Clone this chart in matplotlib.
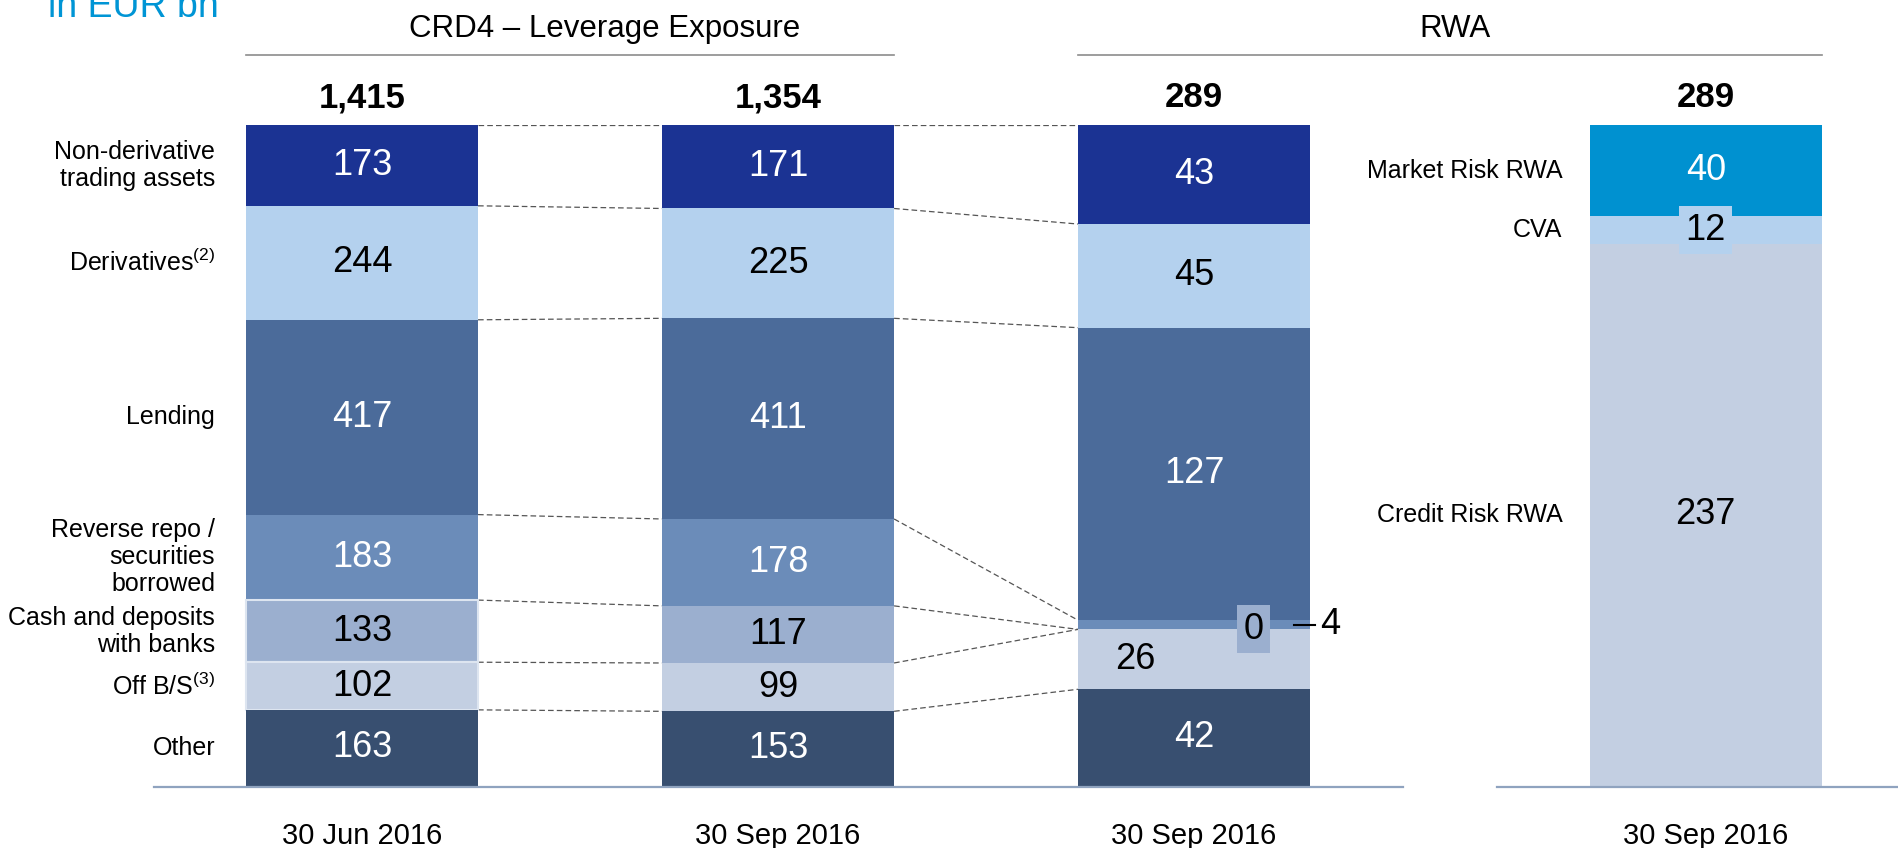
import matplotlib.pyplot as plt
import numpy as np

plt.rcParams['font.family'] = ['Liberation Sans', 'DejaVu Sans']
plt.rcParams['mathtext.fontset'] = 'custom'
plt.rcParams['mathtext.rm'] = 'Liberation Sans'

# data (EUR bn)
categories = ['Non-derivative\ntrading assets', 'Derivatives$^{(2)}$', 'Lending',
              'Reverse repo /\nsecurities\nborrowed', 'Cash and deposits\nwith banks',
              'Off B/S$^{(3)}$', 'Other']
jun16 = [173, 244, 417, 183, 133, 102, 163]
sep16 = [171, 225, 411, 178, 117, 99, 153]
rwa_split = [43, 45, 127, 4, 0, 26, 42]
rwa_cats = ['Market Risk RWA', 'CVA', 'Credit Risk RWA']
rwa_type = [40, 12, 237]
totals = ['1,415', '1,354', '289', '289']
dates = ['30 Jun 2016', '30 Sep 2016', '30 Sep 2016', '30 Sep 2016']

colors = ['#1b3393', '#b4d1ee', '#4b6b9a', '#6b8cb9', '#9bafcf', '#c3cfe2', '#384f70']
txt_col = ['white', 'black', 'white', 'white', 'black', 'black', 'white']
rwa_colors = ['#0091d0', '#b4d1ee', '#c3cfe2']
rwa_txt = ['white', 'black', 'black']

xpos = [0, 1, 2, 3.23]
w = 0.558

fig = plt.figure(figsize=(18.98, 8.48), dpi=100)
ax = fig.add_axes([0, 0.0731, 1, 0.7795])
ax.set_xlim(-0.870, 3.692)
ax.set_ylim(0, 1)
ax.axis('off')


def bounds(vals):
    f = np.array(vals, dtype=float) / sum(vals)
    return f, np.concatenate([[0], np.cumsum(f)])


# stacked bars (100% height each)
stacks = [jun16, sep16, rwa_split]
all_bounds = []
for i, vals in enumerate(stacks):
    f, cum = bounds(vals)
    all_bounds.append(cum)
    for k in range(len(vals)):
        ec = '#dde5f0' if (i == 0 and k in (4, 5)) else 'none'
        ax.bar(xpos[i], f[k], bottom=1 - cum[k + 1], width=w, color=colors[k],
               edgecolor=ec, linewidth=1.5, zorder=2)
        yc = 1 - (cum[k] + cum[k + 1]) / 2
        if i == 2 and k == 3:
            # tiny segment: leader line + label to the right
            ax.plot([xpos[i] + w / 2 - 0.038, xpos[i] + w / 2 + 0.012], [yc, yc],
                    color='black', lw=1.5, zorder=4, clip_on=False)
            ax.text(xpos[i] + w / 2 + 0.025, yc, str(vals[k]), ha='left', va='center',
                    fontsize=26, color='black', zorder=4)
        elif i == 2 and k == 4:
            ax.text(xpos[i] + 0.142, yc, str(vals[k]), ha='center', va='center',
                    fontsize=26, color='black', zorder=4,
                    bbox=dict(boxstyle='square,pad=0.18', fc=colors[k], ec='none'))
        elif i == 2 and k == 5:
            ax.text(xpos[i] - 0.142, yc, str(vals[k]), ha='center', va='center',
                    fontsize=26, color=txt_col[k], zorder=4)
        else:
            ax.text(xpos[i], yc, str(vals[k]), ha='center', va='center',
                    fontsize=26, color=txt_col[k], zorder=4)

# RWA split by risk type
f, cum = bounds(rwa_type)
for k in range(len(rwa_type)):
    ax.bar(xpos[3], f[k], bottom=1 - cum[k + 1], width=w, color=rwa_colors[k], zorder=2)
    yc = 1 - (cum[k] + cum[k + 1]) / 2
    bb = dict(boxstyle='square,pad=0.18', fc=rwa_colors[k], ec='none') if k == 1 else None
    ax.text(xpos[3], yc, str(rwa_type[k]), ha='center', va='center', fontsize=26,
            color=rwa_txt[k], zorder=4, bbox=bb)
    ax.text(2.885, yc, rwa_cats[k], ha='right', va='center', fontsize=18)

# category labels at the first bar's segment centres
cum0 = all_bounds[0]
for k, c in enumerate(categories):
    ax.text(-0.353, 1 - (cum0[k] + cum0[k + 1]) / 2, c, ha='right', va='center',
            fontsize=18, linespacing=1.15)

# dashed connectors between neighbouring bars
for i in range(2):
    a, b = all_bounds[i], all_bounds[i + 1]
    for k in range(len(a) - 1):
        ax.plot([xpos[i] + w / 2, xpos[i + 1] - w / 2], [1 - a[k], 1 - b[k]],
                color='#555555', lw=0.9, ls=(0, (4.5, 2.5)), zorder=1)

# totals and dates
for i in range(4):
    ax.text(xpos[i], 1.041, totals[i], ha='center', va='center', fontsize=25,
            fontweight='bold', clip_on=False)
    ax.text(xpos[i], -0.0756, dates[i], ha='center', va='center', fontsize=21,
            clip_on=False)

# baselines
ax.plot([-0.5, 2.502], [-0.002, -0.002], color='#8fa3bf', lw=1.6, zorder=3, clip_on=False)
ax.plot([2.728, 3.692], [-0.002, -0.002], color='#8fa3bf', lw=1.6, zorder=3, clip_on=False)

# section headers
ax.plot([xpos[0] - w / 2, xpos[1] + w / 2], [1.106, 1.106], color='#8c8c8c', lw=1.2,
        clip_on=False)
ax.plot([xpos[2] - w / 2, xpos[3] + w / 2], [1.106, 1.106], color='#8c8c8c', lw=1.2,
        clip_on=False)
ax.text(0.584, 1.145, 'CRD4 \u2013 Leverage Exposure', ha='center', va='center',
        fontsize=22.5, clip_on=False)
ax.text(2.627, 1.145, 'RWA', ha='center', va='center', fontsize=22.5, clip_on=False)

fig.text(48 / 1898, 1 - 17 / 848, 'in EUR bn', ha='left', va='baseline',
         fontsize=27, color='#0095d5')

fig.savefig('out.png', dpi=100)
